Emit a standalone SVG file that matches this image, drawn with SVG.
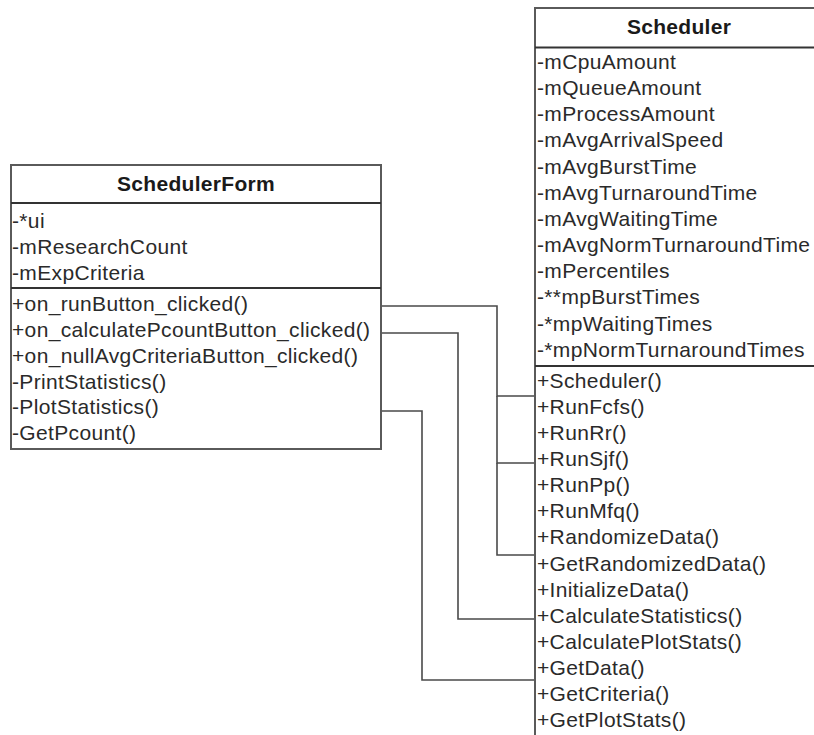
<svg xmlns="http://www.w3.org/2000/svg" width="814" height="735" viewBox="0 0 814 735">
<style>
text{font-family:"Liberation Sans",Arial,sans-serif;font-size:21px;letter-spacing:0.35px;fill:#2a2a2a}
.t{font-weight:bold;text-anchor:middle;fill:#1a1a1a;letter-spacing:0.3px}
.box{fill:#fff;stroke:#5a5a5a;stroke-width:2}
.sep{stroke:#333;stroke-width:2}
.c{fill:none;stroke:#4a4a4a;stroke-width:1.6}
</style>
<rect width="814" height="735" fill="#fff"/>
<g id="connectors">
<polyline class="c" points="381,306 497,306 497,396 535,396"/>
<polyline class="c" points="497,396 497,463 535,463"/>
<polyline class="c" points="497,463 497,555 535,555"/>
<polyline class="c" points="381,333 458,333 458,619 535,619"/>
<polyline class="c" points="381,411 422,411 422,680 535,680"/>
</g>
<g id="SchedulerForm">
<rect class="box" x="11" y="165" width="370" height="284"/>
<line class="sep" x1="11" y1="203" x2="381" y2="203"/>
<line class="sep" x1="11" y1="288" x2="381" y2="288"/>
<text class="t" x="196" y="191">SchedulerForm</text>
<text x="12" y="228">-*ui</text>
<text x="12" y="254">-mResearchCount</text>
<text x="12" y="280">-mExpCriteria</text>
<text x="12" y="311">+on_runButton_clicked()</text>
<text x="12" y="337">+on_calculatePcountButton_clicked()</text>
<text x="12" y="363">+on_nullAvgCriteriaButton_clicked()</text>
<text x="12" y="389">-PrintStatistics()</text>
<text x="12" y="414">-PlotStatistics()</text>
<text x="12" y="440">-GetPcount()</text>
</g>
<g id="Scheduler">
<rect class="box" x="535" y="8" width="290" height="740"/>
<line class="sep" x1="535" y1="47.5" x2="825" y2="47.5"/>
<line class="sep" x1="535" y1="366" x2="825" y2="366"/>
<text class="t" x="679" y="34">Scheduler</text>
<text x="537" y="69">-mCpuAmount</text>
<text x="537" y="95">-mQueueAmount</text>
<text x="537" y="121">-mProcessAmount</text>
<text x="537" y="147">-mAvgArrivalSpeed</text>
<text x="537" y="174">-mAvgBurstTime</text>
<text x="537" y="200">-mAvgTurnaroundTime</text>
<text x="537" y="226">-mAvgWaitingTime</text>
<text x="537" y="252">-mAvgNormTurnaroundTime</text>
<text x="537" y="278">-mPercentiles</text>
<text x="537" y="304">-**mpBurstTimes</text>
<text x="537" y="331">-*mpWaitingTimes</text>
<text x="537" y="357">-*mpNormTurnaroundTimes</text>
<text x="537" y="388">+Scheduler()</text>
<text x="537" y="414">+RunFcfs()</text>
<text x="537" y="440">+RunRr()</text>
<text x="537" y="466">+RunSjf()</text>
<text x="537" y="492">+RunPp()</text>
<text x="537" y="518">+RunMfq()</text>
<text x="537" y="544">+RandomizeData()</text>
<text x="537" y="571">+GetRandomizedData()</text>
<text x="537" y="597">+InitializeData()</text>
<text x="537" y="623">+CalculateStatistics()</text>
<text x="537" y="649">+CalculatePlotStats()</text>
<text x="537" y="675">+GetData()</text>
<text x="537" y="701">+GetCriteria()</text>
<text x="537" y="727">+GetPlotStats()</text>
</g>
</svg>
